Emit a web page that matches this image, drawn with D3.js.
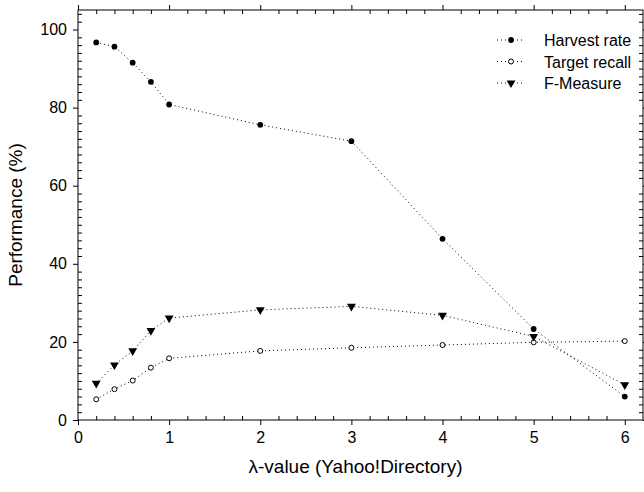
<!DOCTYPE html>
<html>
<head>
<meta charset="utf-8">
<script src="https://cdn.jsdelivr.net/npm/d3@7"></script>
<style>
  body { margin: 0; background: #fff; }
  svg { display: block; font-family: "Liberation Sans", Arial, sans-serif; }
  .axis .domain { display: none; }
  .axis line { stroke: #000; stroke-width: 1; }
  .axis text { font-size: 16px; fill: #000; }
</style>
</head>
<body>
<svg id="chart"></svg>
<script>
// data
const lambdas = [0.2, 0.4, 0.6, 0.8, 1, 2, 3, 4, 5, 6];
const harvestRate = [96.7, 95.6, 91.5, 86.6, 80.8, 75.6, 71.4, 46.4, 23.3, 6.0];
const targetRecall = [5.3, 7.9, 10.1, 13.4, 15.8, 17.7, 18.5, 19.2, 19.9, 20.2];
const fMeasure = [9.4, 14.1, 17.7, 22.9, 26.1, 28.2, 29.1, 26.8, 21.4, 9.0];
const seriesNames = ["Harvest rate", "Target recall", "F-Measure"];
const xTicks = [0, 1, 2, 3, 4, 5, 6];
const yTicks = [0, 20, 40, 60, 80, 100];

const width = 644, height = 492;
const margin = { top: 10, right: 1, bottom: 72, left: 78 };

const svg = d3.select("#chart").attr("width", width).attr("height", height);

const x = d3.scaleLinear().domain([0, 6.2]).range([margin.left, width - margin.right]);
const y = d3.scaleLinear().domain([0, 105]).range([height - margin.bottom, margin.top]);

const xMinor = d3.range(0.2, 6.21, 0.2).map(v => +v.toFixed(1)).filter(v => !xTicks.includes(v) && v < 6.19);
const yMinor = d3.range(2, 105, 2).filter(v => !yTicks.includes(v));

// frame
svg.append("rect")
  .attr("x", x(0)).attr("y", y(105))
  .attr("width", x(6.2) - x(0)).attr("height", y(0) - y(105))
  .attr("fill", "none").attr("stroke", "#000").attr("stroke-width", 1);

// bottom
svg.append("g").attr("class", "axis")
  .attr("transform", `translate(0,${y(0)})`)
  .call(d3.axisBottom(x).tickValues(xTicks).tickSize(5).tickPadding(7).tickFormat(d3.format("d")));
svg.append("g").attr("class", "axis")
  .attr("transform", `translate(0,${y(0)})`)
  .call(d3.axisBottom(x).tickValues(xMinor).tickSize(-4).tickFormat(""));
// top
svg.append("g").attr("class", "axis")
  .attr("transform", `translate(0,${y(105)})`)
  .call(d3.axisTop(x).tickValues(xTicks).tickSize(5).tickFormat(""));
svg.append("g").attr("class", "axis")
  .attr("transform", `translate(0,${y(105)})`)
  .call(d3.axisTop(x).tickValues(xMinor).tickSize(-4).tickFormat(""));
// left
svg.append("g").attr("class", "axis")
  .attr("transform", `translate(${x(0)},0)`)
  .call(d3.axisLeft(y).tickValues(yTicks).tickSize(5).tickPadding(6));
svg.append("g").attr("class", "axis")
  .attr("transform", `translate(${x(0)},0)`)
  .call(d3.axisLeft(y).tickValues(yMinor).tickSize(-4).tickFormat(""));
// right
svg.append("g").attr("class", "axis")
  .attr("transform", `translate(${x(6.2)},0)`)
  .call(d3.axisRight(y).tickValues(yTicks).tickSize(5).tickFormat(""));
svg.append("g").attr("class", "axis")
  .attr("transform", `translate(${x(6.2)},0)`)
  .call(d3.axisRight(y).tickValues(yMinor).tickSize(-4).tickFormat(""));

// axis titles
svg.append("text")
  .attr("x", (x(0) + x(6.2)) / 2 - 5).attr("y", 473)
  .attr("text-anchor", "middle").attr("font-size", 19)
  .text("λ-value (Yahoo!Directory)");
svg.append("text")
  .attr("transform", `translate(22,${(y(0) + y(105)) / 2}) rotate(-90)`)
  .attr("text-anchor", "middle").attr("font-size", 19)
  .text("Performance (%)");

const line = d3.line().x((d, i) => x(lambdas[i])).y(d => y(d));
const tri = d3.symbol().type(d3.symbolTriangle).size(34);

function marker(sel, kind) {
  if (kind === 0) {
    sel.append("circle").attr("r", 2.9).attr("fill", "#000");
  } else if (kind === 1) {
    sel.append("circle").attr("r", 2.5).attr("fill", "#fff").attr("stroke", "#000").attr("stroke-width", 1);
  } else {
    sel.append("path").attr("d", tri).attr("transform", "rotate(180)").attr("fill", "#000");
  }
}

const allSeries = [harvestRate, targetRecall, fMeasure];
allSeries.forEach((vals, k) => {
  svg.append("path")
    .datum(vals)
    .attr("fill", "none")
    .attr("stroke", "#000")
    .attr("stroke-width", 1)
    .attr("stroke-dasharray", "1,3")
    .attr("d", line);
  svg.selectAll(null)
    .data(vals)
    .enter()
    .append("g")
    .attr("transform", (d, i) => `translate(${x(lambdas[i])},${y(d)})`)
    .each(function () { marker(d3.select(this), k); });
});

// legend
const legend = svg.append("g").attr("transform", "translate(497,40)");
seriesNames.forEach((name, k) => {
  const row = legend.append("g").attr("transform", `translate(0,${k * 21.5})`);
  row.append("line")
    .attr("x1", 0).attr("x2", 28).attr("y1", 0).attr("y2", 0)
    .attr("stroke", "#000").attr("stroke-dasharray", "1,3");
  marker(row.append("g").attr("transform", "translate(14,0)"), k);
  row.append("text")
    .attr("x", 47).attr("y", 6)
    .attr("font-size", 16)
    .text(name);
});
</script>
</body>
</html>
